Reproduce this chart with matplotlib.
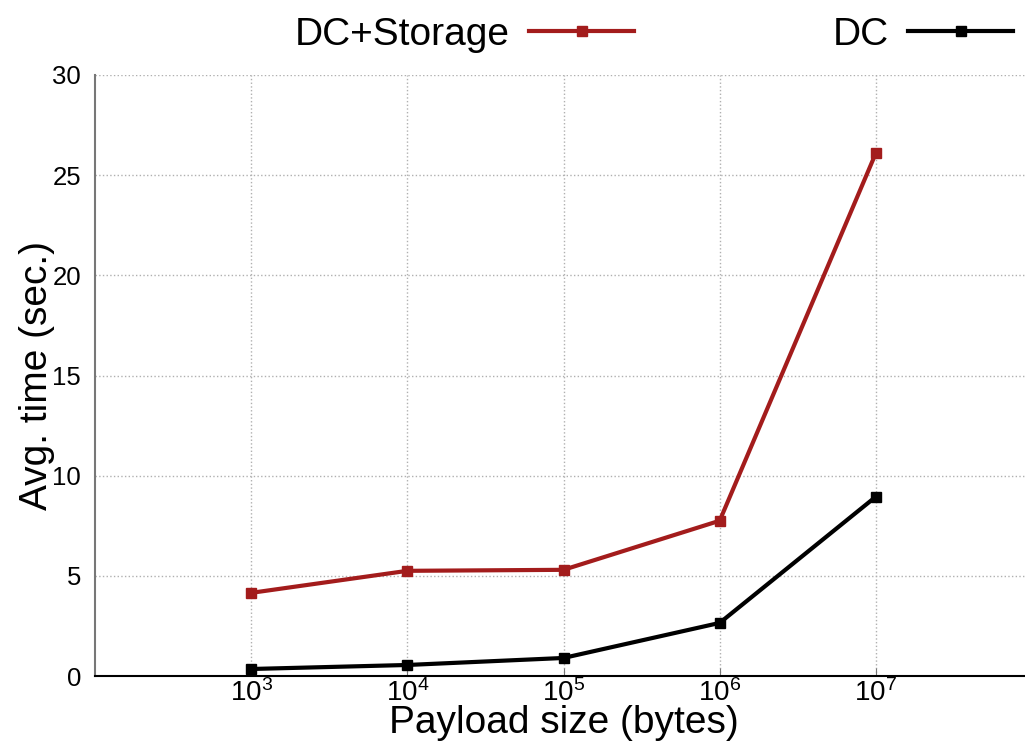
import matplotlib
matplotlib.use("Agg")
import matplotlib.pyplot as plt

# Data
payload = [1e3, 1e4, 1e5, 1e6, 1e7]
dc_storage = [4.15, 5.25, 5.3, 7.75, 26.1]
dc = [0.35, 0.55, 0.9, 2.65, 8.95]
xticks = [1e3, 1e4, 1e5, 1e6, 1e7]
xlabels = [r'$10^{3}$', r'$10^{4}$', r'$10^{5}$', r'$10^{6}$', r'$10^{7}$']
yticks = [0, 5, 10, 15, 20, 25, 30]

plt.rcParams['font.family'] = ['Liberation Sans', 'DejaVu Sans']
plt.rcParams['mathtext.fontset'] = 'custom'
plt.rcParams['mathtext.rm'] = 'Liberation Sans'
plt.rcParams['mathtext.it'] = 'Liberation Sans:italic'

fig = plt.figure(figsize=(10.25, 7.41), dpi=100)
ax = fig.add_axes([95/1025, 1-676/741, 937/1025, (676-75)/741])

red = '#a31c1c'
ax.plot(payload, dc_storage, color=red, lw=3, marker='s', ms=7.5, label='DC+Storage')
ax.plot(payload, dc, color='black', lw=3, marker='s', ms=7.5, label='DC')

ax.set_xscale('log')
ax.set_xlim(1e2, 1e8)
ax.set_ylim(0, 30)
ax.set_xticks(xticks)
ax.set_xticks([], minor=True)
ax.set_xticklabels(xlabels)
ax.set_yticks(yticks)

ax.grid(True, color='#b0b0b0', ls=':', lw=1)
ax.tick_params(axis='x', direction='in', length=6, labelsize=20, pad=2, color='#777777')
ax.tick_params(axis='y', direction='in', length=0, labelsize=18.5, pad=10)
for s in ['top', 'right']:
    ax.spines[s].set_visible(False)
ax.spines['left'].set_color('#777777')
ax.spines['left'].set_linewidth(1.5)
ax.spines['bottom'].set_linewidth(1.5)

ax.set_xlabel('Payload size (bytes)', fontsize=28, labelpad=-1)
ax.set_ylabel('Avg. time (sec.)', fontsize=28, labelpad=-2)

fig.legend(loc='center', bbox_to_anchor=(654/1025, 1-35/741), ncol=2, frameon=False,
           markerfirst=False, handlelength=2.7, handletextpad=0.5, columnspacing=5.1,
           fontsize=28)

fig.savefig('out.png', dpi=100)
